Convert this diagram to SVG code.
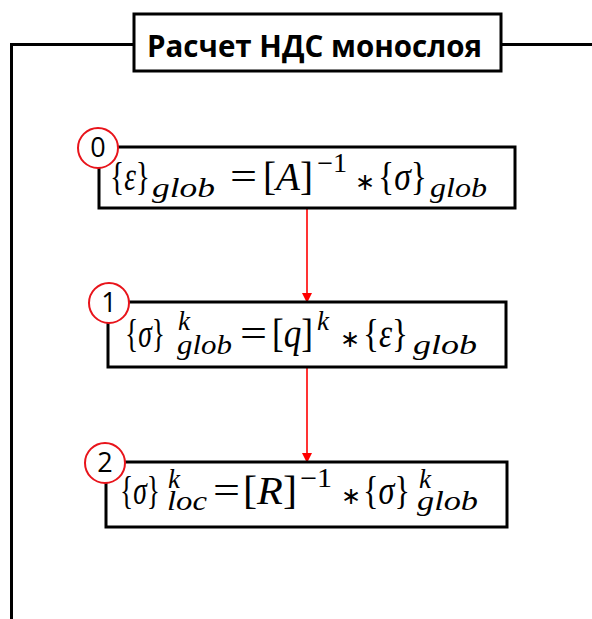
<svg xmlns="http://www.w3.org/2000/svg" width="592" height="619" viewBox="0 0 592 619">
  <style>
    .frame { fill: none; stroke: #000; stroke-width: 3; }
    .box { fill: #fff; stroke: #000; stroke-width: 3; }
    .title { font-family: "Open Sans", "Liberation Sans", sans-serif; font-weight: 700; font-size: 30px; fill: #000; }
    .m { font-family: "Liberation Serif", "DejaVu Serif", serif; font-size: 41px; fill: #000; }
    .i { font-style: italic; }
    .s { font-family: "Liberation Serif", "DejaVu Serif", serif; font-size: 27px; font-style: italic; fill: #000; }
    .su { font-family: "Liberation Serif", "DejaVu Serif", serif; font-size: 27px; fill: #000; }
    .op { font-family: "DejaVu Sans", sans-serif; font-size: 24px; fill: #000; }
    .badge { fill: #fff; stroke: #e8141b; stroke-width: 2; }
    .num { font-family: "Open Sans", "Liberation Sans", sans-serif; font-size: 27px; fill: #000; text-anchor: middle; }
    .link { stroke: #ff0000; stroke-width: 1.6; fill: none; }
  </style>
  <defs>
    <marker id="arrow" markerWidth="10" markerHeight="10" refX="9" refY="5" orient="auto" markerUnits="userSpaceOnUse">
      <path d="M0,0 L10,5 L0,10 Z" fill="#ff0000"/>
    </marker>
  </defs>

  <!-- outer frame with title -->
  <g id="frame">
    <path class="frame" d="M134,44.5 H11.5 V619"/>
    <path class="frame" d="M501,44.5 H592"/>
  </g>
  <g id="title">
    <rect class="box" x="134" y="14" width="367" height="57"/>
    <text class="title" x="147" y="57" textLength="335" lengthAdjust="spacingAndGlyphs">Расчет НДС монослоя</text>
  </g>

  <!-- connectors -->
  <g id="connectors">
    <line class="link" x1="307" y1="209" x2="307" y2="302" marker-end="url(#arrow)"/>
    <line class="link" x1="307" y1="368" x2="307" y2="462" marker-end="url(#arrow)"/>
  </g>

  <!-- step 0 -->
  <g id="step0">
    <rect class="box" x="99" y="147" width="416" height="61"/>
    <text class="m" x="110" y="190" textLength="40" lengthAdjust="spacingAndGlyphs">{<tspan class="i">ε</tspan>}</text>
    <text class="s" x="152" y="197" textLength="63" lengthAdjust="spacingAndGlyphs">glob</text>
    <text class="m" x="230" y="190" textLength="27" lengthAdjust="spacingAndGlyphs">=</text>
    <text class="m" x="263" y="190" textLength="50" lengthAdjust="spacingAndGlyphs">[<tspan class="i">A</tspan>]</text>
    <text class="su" x="317" y="172" textLength="30" lengthAdjust="spacingAndGlyphs">−1</text>
    <text class="op" x="355" y="190">∗</text>
    <text class="m" x="378" y="190" textLength="49" lengthAdjust="spacingAndGlyphs">{<tspan class="i">σ</tspan>}</text>
    <text class="s" x="430" y="197" textLength="57" lengthAdjust="spacingAndGlyphs">glob</text>
    <circle class="badge" cx="98" cy="148" r="20"/>
    <text class="num" x="98" y="157">0</text>
  </g>

  <!-- step 1 -->
  <g id="step1">
    <rect class="box" x="108" y="302" width="398" height="65"/>
    <text class="m" x="125" y="347" textLength="40" lengthAdjust="spacingAndGlyphs">{<tspan class="i">σ</tspan>}</text>
    <text class="s" x="178" y="330">k</text>
    <text class="s" x="177" y="354" textLength="55" lengthAdjust="spacingAndGlyphs">glob</text>
    <text class="m" x="240" y="347" textLength="27" lengthAdjust="spacingAndGlyphs">=</text>
    <text class="m" x="272" y="347" textLength="41" lengthAdjust="spacingAndGlyphs">[<tspan class="i">q</tspan>]</text>
    <text class="s" x="317" y="330">k</text>
    <text class="op" x="340" y="347">∗</text>
    <text class="m" x="363" y="347" textLength="45" lengthAdjust="spacingAndGlyphs">{<tspan class="i">ε</tspan>}</text>
    <text class="s" x="413" y="354" textLength="64" lengthAdjust="spacingAndGlyphs">glob</text>
    <circle class="badge" cx="109" cy="303" r="20"/>
    <text class="num" x="109" y="312">1</text>
  </g>

  <!-- step 2 -->
  <g id="step2">
    <rect class="box" x="106" y="462" width="401" height="65"/>
    <text class="m" x="120" y="504" textLength="40" lengthAdjust="spacingAndGlyphs">{<tspan class="i">σ</tspan>}</text>
    <text class="s" x="168" y="488">k</text>
    <text class="s" x="167" y="510" textLength="40" lengthAdjust="spacingAndGlyphs">loc</text>
    <text class="m" x="213" y="504" textLength="27" lengthAdjust="spacingAndGlyphs">=</text>
    <text class="m" x="243" y="504" textLength="54" lengthAdjust="spacingAndGlyphs">[<tspan class="i">R</tspan>]</text>
    <text class="su" x="300" y="487" textLength="32" lengthAdjust="spacingAndGlyphs">−1</text>
    <text class="op" x="341" y="504">∗</text>
    <text class="m" x="363" y="504" textLength="47" lengthAdjust="spacingAndGlyphs">{<tspan class="i">σ</tspan>}</text>
    <text class="s" x="419" y="488">k</text>
    <text class="s" x="417" y="510" textLength="61" lengthAdjust="spacingAndGlyphs">glob</text>
    <circle class="badge" cx="105" cy="463" r="20"/>
    <text class="num" x="105" y="472">2</text>
  </g>
</svg>
